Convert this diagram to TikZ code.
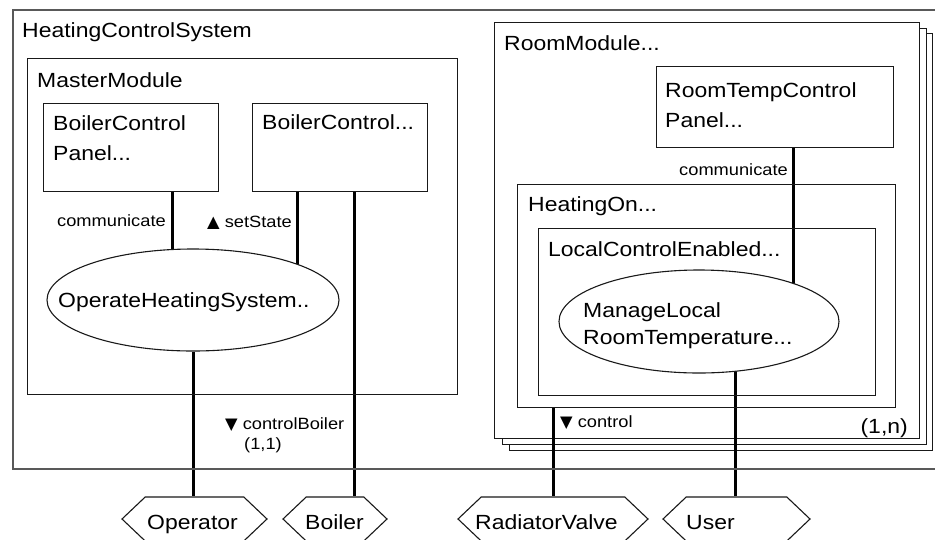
\documentclass[tikz,border=0pt]{standalone}
\usepackage{fontspec}
\setmainfont{Liberation Sans}[FakeStretch=1.12]
\newfontfamily\symfont{DejaVu Sans}
\usetikzlibrary{shapes.geometric,shapes.symbols,calc}
\pgfdeclarelayer{back}
\pgfdeclarelayer{lines}
\pgfsetlayers{back,lines,main}
\begin{document}
\begin{tikzpicture}[x=1pt,y=-1pt,
  box/.style={draw=black!90, line width=1.1pt, inner sep=0, anchor=north west},
  outerbox/.style={draw=black!65, line width=1.6pt, inner sep=0, anchor=north west},
  card/.style={box, fill=white},
  big/.style={font=\fontsize{20.5}{30}\selectfont, inner sep=0, anchor=base west, align=left},
  small/.style={font=\fontsize{16.3}{20}\selectfont, inner sep=0, anchor=base west},
  conn/.style={line width=3pt},
  usecase/.style={draw=black!90, ellipse, line width=1.1pt, fill=white, inner sep=0},
  actor/.style={draw=black!90, signal, signal to=west and east, signal pointer angle=87, line width=1.1pt, fill=white, minimum height=44, inner sep=0},
  ]
\useasboundingbox (0,0) rectangle (935,539);
% outer system
\node[outerbox, minimum width=933, minimum height=459] (hcs) at (12,9) {};
\node[big] (hcs-t) at (22,37) {HeatingControlSystem};
% master module
\node[box, minimum width=430, minimum height=336] (mm) at (27,58) {};
\node[big] (mm-t) at (37,87) {MasterModule};
\node[box, minimum width=175, minimum height=88] (bcp) at (43,103) {};
\node[big] (bcp-t) at (53,160) {BoilerControl\\Panel...};
\node[box, minimum width=175, minimum height=88] (bc) at (252,103) {};
\node[big] (bc-t) at (262,129) {BoilerControl...};
\node[usecase, minimum width=292, minimum height=102] (ohs) at (193,300) {};
\node[big] (ohs-t) at (58,307) {OperateHeatingSystem..};
% room module cards
\begin{pgfonlayer}{back}
\node[card, minimum width=423, minimum height=417] (rm3) at (509,33) {};
\node[card, minimum width=424, minimum height=416] (rm2) at (502,28) {};
\node[card, minimum width=425, minimum height=416] (rm) at (494,22) {};
\end{pgfonlayer}
\node[big] (rm-t) at (504,50) {RoomModule...};
\node[box, minimum width=237, minimum height=81] (rtcp) at (656,66) {};
\node[big] (rtcp-t) at (665,127) {RoomTempControl\\Panel...};
\node[box, minimum width=378, minimum height=223] (ho) at (517,184) {};
\node[big] (ho-t) at (528,211) {HeatingOn...};
\node[box, minimum width=337, minimum height=167] (lce) at (538,228) {};
\node[big] (lce-t) at (548,256) {LocalControlEnabled...};
\node[usecase, minimum width=280, minimum height=103] (mlrt) at (699,321.5) {};
\node[big, font=\fontsize{20.5}{27}\selectfont] (mlrt-t) at (583,344) {ManageLocal\\RoomTemperature...};
\node[big, anchor=base east] (mult-n) at (908,433) {(1,n)};
% actors
\node[actor, minimum width=145] (op) at (194.5,519) {};
\node[big] (op-t) at (147,529) {Operator};
\node[actor, minimum width=104] (boiler) at (335,519) {};
\node[big] (boiler-t) at (305,529) {Boiler};
\node[actor, minimum width=190] (rv) at (553,519) {};
\node[big] (rv-t) at (475,529) {RadiatorValve};
\node[actor, minimum width=147] (user) at (736.5,519) {};
\node[big] (user-t) at (686,529) {User};
% connector x positions
\coordinate (xa) at (172,0);
\coordinate (xb) at (297,0);
\coordinate (xc) at (354,0);
\coordinate (xd) at (793,0);
\coordinate (xe) at (553,0);
\coordinate (xf) at (735,0);
\begin{pgfonlayer}{lines}
\draw[conn] (bcp.south -| xa) -- (ohs.center -| xa);
\draw[conn] (bc.south -| xb) -- (ohs.center -| xb);
\draw[conn] (bc.south -| xc) -- (boiler.north -| xc);
\draw[conn] (ohs.south) -- (op.north -| ohs.south);
\draw[conn] (rtcp.south -| xd) -- (mlrt.center -| xd);
\draw[conn] (ho.south -| xe) -- (rv.north -| xe);
\draw[conn] (mlrt.center -| xf) -- (user.north -| xf);
\end{pgfonlayer}
% connector labels
\node[small] (l-comm1) at (57,226) {communicate};
\node[small] (l-set) at (207,227) {{\symfont ▲} setState};
\node[small] (l-cb) at (225,429) {{\symfont ▼} controlBoiler};
\node[small] (l-11) at (244,449) {(1,1)};
\node[small, anchor=base east] (l-comm2) at (788,175) {communicate};
\node[small] (l-ctrl) at (560,427) {{\symfont ▼} control};
\end{tikzpicture}
\end{document}
